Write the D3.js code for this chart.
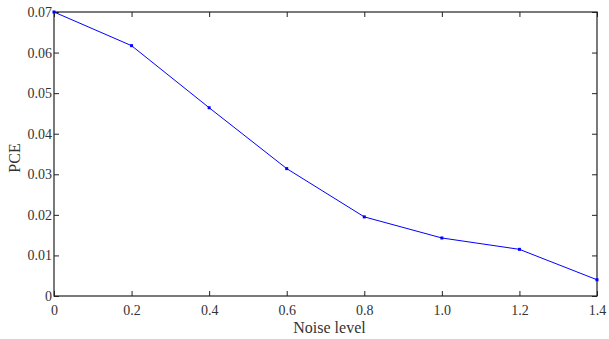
<!DOCTYPE html>
<html>
<head>
<meta charset="utf-8">
<script src="https://cdn.jsdelivr.net/npm/d3@7"></script>
<style>
  body { margin: 0; background: #fff; }
</style>
</head>
<body>
<svg id="chart" width="609" height="339"></svg>
<script>
const noiseLevels = [0, 0.2, 0.4, 0.6, 0.8, 1.0, 1.2, 1.4]
const pceValues = [0.0700, 0.0617, 0.0464, 0.0314, 0.0195, 0.0143, 0.0115, 0.0040]
const xTicks = [0, 0.2, 0.4, 0.6, 0.8, 1.0, 1.2, 1.4]
const yTicks = [0, 0.01, 0.02, 0.03, 0.04, 0.05, 0.06, 0.07]

const serif = '"Liberation Serif", "Times New Roman", serif'
const margin = { top: 12, right: 12, bottom: 43, left: 54 }
const width = 609, height = 339
const svg = d3.select('#chart')

const x = d3.scaleLinear().domain([0, 1.4]).range([margin.left, width - margin.right])
const y = d3.scaleLinear().domain([0, 0.07]).range([height - margin.bottom, margin.top])
const tickLen = 5

const data = noiseLevels.map((n, i) => ({ n, v: pceValues[i] }))

// box
svg.append('rect')
  .attr('x', x(0)).attr('y', y(0.07))
  .attr('width', x(1.4) - x(0)).attr('height', y(0) - y(0.07))
  .attr('fill', 'none').attr('stroke', '#222').attr('stroke-width', 1.2)

// bottom axis, ticks point inward
const xAxis = svg.append('g')
  .attr('transform', `translate(0,${y(0)})`)
  .call(d3.axisBottom(x).tickValues(xTicks).tickSize(-tickLen).tickPadding(9)
    .tickFormat(d => d === 0 ? '0' : d3.format('.1f')(d)))
xAxis.select('.domain').remove()

svg.append('g')
  .attr('transform', `translate(0,${y(0.07)})`)
  .call(d3.axisTop(x).tickValues(xTicks).tickSize(-tickLen).tickFormat(''))
  .select('.domain').remove()

const yAxis = svg.append('g')
  .attr('transform', `translate(${x(0)},0)`)
  .call(d3.axisLeft(y).tickValues(yTicks).tickSize(-tickLen).tickPadding(2)
    .tickFormat(d => d === 0 ? '0' : d3.format('.2f')(d)))
yAxis.select('.domain').remove()

svg.append('g')
  .attr('transform', `translate(${x(1.4)},0)`)
  .call(d3.axisRight(y).tickValues(yTicks).tickSize(-tickLen).tickFormat(''))
  .select('.domain').remove()

svg.selectAll('g').attr('font-family', serif).attr('font-size', 14)
svg.selectAll('.tick line').attr('stroke', '#222')
svg.selectAll('.tick text').attr('fill', '#333')

// line
svg.append('path')
  .datum(data)
  .attr('fill', 'none').attr('stroke', '#0000ff').attr('stroke-width', 1)
  .attr('d', d3.line().x(d => x(d.n)).y(d => y(d.v)))

svg.selectAll('.pt')
  .data(data)
  .enter().append('rect')
  .attr('x', d => x(d.n) - 1.5).attr('y', d => y(d.v) - 1.5)
  .attr('width', 3).attr('height', 3)
  .attr('fill', '#0000ff')

// labels
svg.append('text')
  .attr('x', (x(0) + x(1.4)) / 2 + 4).attr('y', 333)
  .attr('text-anchor', 'middle')
  .attr('font-family', serif).attr('font-size', 16).attr('fill', '#333')
  .text('Noise level')

svg.append('text')
  .attr('transform', `translate(20,${(y(0) + y(0.07)) / 2 + 4}) rotate(-90)`)
  .attr('text-anchor', 'middle')
  .attr('font-family', serif).attr('font-size', 16).attr('fill', '#333')
  .text('PCE')
</script>
</body>
</html>
